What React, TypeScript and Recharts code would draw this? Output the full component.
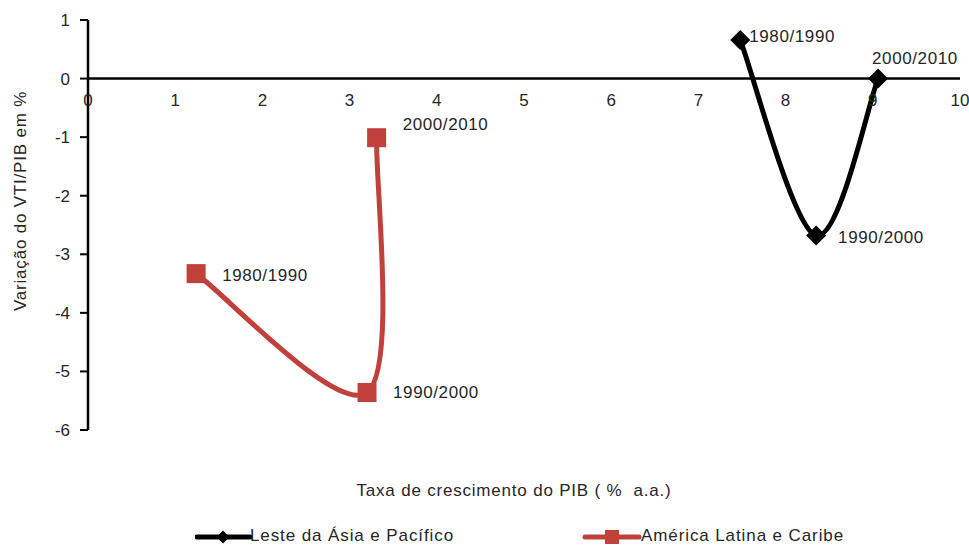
import React from 'react';
import { ScatterChart, Scatter, XAxis, YAxis, ReferenceLine, ReferenceDot } from 'recharts';

// períodos (rótulos dos pontos)
const PERIODS = ['1980/1990', '1990/2000', '2000/2010'];

// Leste da Ásia e Pacífico
const ASIA_GROWTH = [7.48, 8.35, 9.06];
const ASIA_VTI = [0.66, -2.68, 0.0];

// América Latina e Caribe
const LATAM_GROWTH = [1.24, 3.2, 3.31];
const LATAM_VTI = [-3.33, -5.36, -1.01];

const X_TICKS = [0, 1, 2, 3, 4, 5, 6, 7, 8, 9, 10];
const Y_TICKS = [1, 0, -1, -2, -3, -4, -5, -6];

const FONT = '"Liberation Sans", Arial, sans-serif';
const TEXT = '#262626';
const BLACK = '#000000';
const RED = '#C0403C';

const asiaData = PERIODS.map((p, i) => ({ x: ASIA_GROWTH[i], y: ASIA_VTI[i], label: p }));
const latamData = PERIODS.map((p, i) => ({ x: LATAM_GROWTH[i], y: LATAM_VTI[i], label: p }));

// deslocamento dos rótulos em relação ao marcador
const asiaLabelPos: Record<string, [number, number]> = {
  '1980/1990': [9, -3],
  '1990/2000': [22, 2],
  '2000/2010': [-6, -20],
};
const latamLabelPos: Record<string, [number, number]> = {
  '1980/1990': [26, 2],
  '1990/2000': [26, 0],
  '2000/2010': [26, -13],
};

// suavização tipo Excel (Catmull-Rom uniforme)
const smoothCurve = (context: any) => {
  let pts: [number, number][] = [];
  return {
    areaStart() {},
    areaEnd() {},
    lineStart() {
      pts = [];
    },
    point(x: number, y: number) {
      pts.push([+x, +y]);
    },
    lineEnd() {
      const n = pts.length;
      if (!n) return;
      context.moveTo(pts[0][0], pts[0][1]);
      for (let i = 0; i < n - 1; i++) {
        const p0 = pts[Math.max(i - 1, 0)];
        const p1 = pts[i];
        const p2 = pts[i + 1];
        const p3 = pts[Math.min(i + 2, n - 1)];
        context.bezierCurveTo(
          p1[0] + (p2[0] - p0[0]) / 6,
          p1[1] + (p2[1] - p0[1]) / 6,
          p2[0] - (p3[0] - p1[0]) / 6,
          p2[1] - (p3[1] - p1[1]) / 6,
          p2[0],
          p2[1],
        );
      }
    },
  };
};

const pointLabel = (cx: number, cy: number, text: string, off: [number, number]) => (
  <text
    x={cx + off[0]}
    y={cy + off[1]}
    dominantBaseline="central"
    fontSize={17}
    fontFamily={FONT}
    fill={TEXT}
    letterSpacing={0.6}
  >
    {text}
  </text>
);

const DiamondShape = (props: any) => {
  const { cx, cy, payload } = props;
  const r = 10;
  return (
    <g>
      <path d={`M${cx},${cy - r}L${cx + r},${cy}L${cx},${cy + r}L${cx - r},${cy}Z`} fill={BLACK} />
      {pointLabel(cx, cy, payload.label, asiaLabelPos[payload.label])}
    </g>
  );
};

const SquareShape = (props: any) => {
  const { cx, cy, payload } = props;
  const h = 9.5;
  return (
    <g>
      <rect x={cx - h} y={cy - h} width={h * 2} height={h * 2} fill={RED} />
      {pointLabel(cx, cy, payload.label, latamLabelPos[payload.label])}
    </g>
  );
};

const LegendBox = () => (
  <div
    style={{
      position: 'absolute',
      left: 0,
      top: 524,
      width: 969,
      height: 30,
      fontFamily: FONT,
      fontSize: 17,
      color: TEXT,
      letterSpacing: 0.9,
    }}
  >
    <svg width={60} height={20} style={{ position: 'absolute', left: 195, top: 3 }}>
      <line x1={2} y1={10} x2={55} y2={10} stroke={BLACK} strokeWidth={5} strokeLinecap="round" />
      <path d="M28,3.5L34.5,10L28,16.5L21.5,10Z" fill={BLACK} />
    </svg>
    <span style={{ position: 'absolute', left: 250, top: 2 }}>Leste da Ásia e Pacífico</span>
    <svg width={60} height={20} style={{ position: 'absolute', left: 582, top: 3 }}>
      <line x1={3} y1={10} x2={57} y2={10} stroke={RED} strokeWidth={5} strokeLinecap="round" />
      <rect x={23} y={3} width={14} height={14} fill={RED} />
    </svg>
    <span style={{ position: 'absolute', left: 641, top: 2 }}>América Latina e Caribe</span>
  </div>
);

const YTitle = (props: any) => {
  const { viewBox } = props;
  const cy = viewBox.y + viewBox.height / 2 - 24;
  return (
    <text
      x={20}
      y={cy}
      transform={`rotate(-90 20 ${cy})`}
      textAnchor="middle"
      dominantBaseline="central"
      fontSize={17}
      fontFamily={FONT}
      fill={TEXT}
      letterSpacing={0.8}
    >
      Variação do VTI/PIB em %
    </text>
  );
};

export default function App() {
  return (
    <div style={{ position: 'absolute', left: 0, top: 0, width: 969, height: 545, background: '#fff' }}>
      <ScatterChart width={969} height={545} margin={{ top: 20, right: 9, bottom: 115, left: 0 }}>
        <XAxis type="number" dataKey="x" domain={[0, 10]} ticks={X_TICKS} hide />
        <YAxis
          type="number"
          dataKey="y"
          domain={[-6, 1]}
          ticks={Y_TICKS}
          width={88}
          axisLine={{ stroke: BLACK, strokeWidth: 2.5 }}
          tickLine={{ stroke: BLACK, strokeWidth: 2 }}
          tickSize={8}
          tickMargin={10}
          tick={{ fill: TEXT, fontSize: 17, fontFamily: FONT }}
          label={<YTitle />}
        />
        <ReferenceLine y={0} stroke={BLACK} strokeWidth={2.5} />
        {X_TICKS.map((t) => (
          <ReferenceDot
            key={t}
            x={t}
            y={0}
            r={0}
            fill="none"
            stroke="none"
            label={{ value: String(t), position: 'bottom', offset: 15, fill: TEXT, fontSize: 17, fontFamily: FONT }}
          />
        ))}
        <Scatter
          name="Leste da Ásia e Pacífico"
          data={asiaData}
          fill={BLACK}
          line={{ stroke: BLACK, strokeWidth: 5 }}
          lineType="joint"
          lineJointType={smoothCurve as any}
          shape={<DiamondShape />}
          isAnimationActive={false}
        />
        <Scatter
          name="América Latina e Caribe"
          data={latamData}
          fill={RED}
          line={{ stroke: RED, strokeWidth: 5 }}
          lineType="joint"
          lineJointType={smoothCurve as any}
          shape={<SquareShape />}
          isAnimationActive={false}
        />
      </ScatterChart>
      <div
        style={{
          position: 'absolute',
          left: 0,
          top: 481,
          width: 1028,
          textAlign: 'center',
          fontFamily: FONT,
          fontSize: 17,
          color: TEXT,
          letterSpacing: 0.8,
        }}
      >
        Taxa de crescimento do PIB ( %&nbsp; a.a.)
      </div>
      <LegendBox />
    </div>
  );
}
